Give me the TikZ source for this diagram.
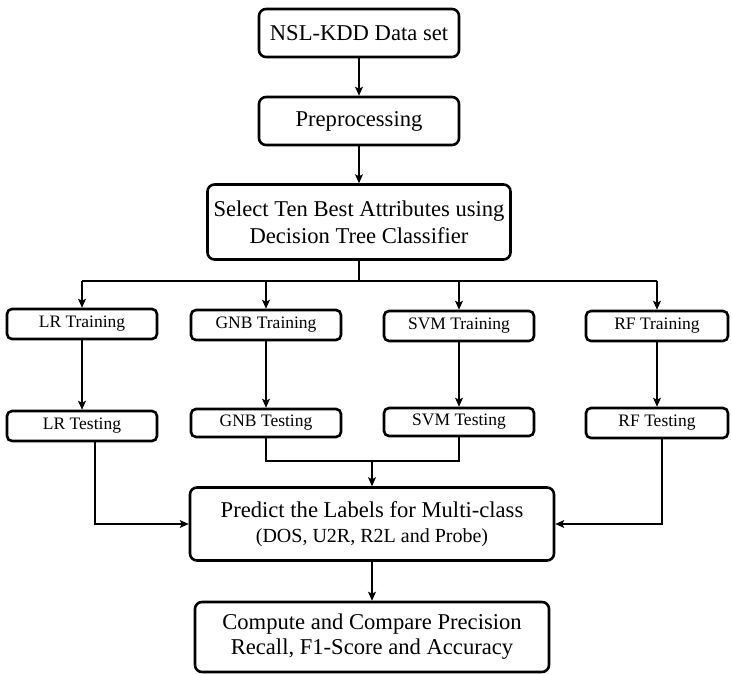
\documentclass[tikz,border=0pt]{standalone}
\usepackage{fontspec}
\setmainfont{Liberation Serif}
\usetikzlibrary{arrows.meta}

\begin{document}
\begin{tikzpicture}[x=1pt, y=-1pt,
    bigbox/.style={draw, line width=2.6pt, rounded corners=7pt, align=center,
        inner sep=0pt, font=\fontsize{22.6}{27}\selectfont},
    smallbox/.style={draw, line width=2.6pt, rounded corners=5pt, inner sep=0pt,
        minimum height=30pt, font=\fontsize{17.5}{20}\selectfont},
    link/.style={line width=1.2pt, -{Stealth[length=9pt,width=8pt,inset=2pt]}},
    wire/.style={line width=1.2pt}]

    \useasboundingbox (0,0) rectangle (732,675);

    % upper chain
    \node[bigbox, minimum width=200, minimum height=48] (nsl) at (359,33) {NSL-KDD Data set};
    \node[bigbox, minimum width=200, minimum height=48] (prep) at (359,121) {Preprocessing};
    \node[bigbox, minimum width=303, minimum height=75] (select) at (359,222)
        {Select Ten Best Attributes using\\Decision Tree Classifier};
    \draw[link] (nsl) -- (prep);
    \draw[link] (prep) -- (select);

    % training row
    \node[smallbox, minimum width=150] (lrtrain) at (82,324) {LR Training};
    \node[smallbox, minimum width=150] (gnbtrain) at (266,325) {GNB Training};
    \node[smallbox, minimum width=150] (svmtrain) at (459,326) {SVM Training};
    \node[smallbox, minimum width=142] (rftrain) at (657,326) {RF Training};

    % testing row
    \node[smallbox, minimum width=150] (lrtest) at (82,426) {LR Testing};
    \node[smallbox, minimum width=150, minimum height=28] (gnbtest) at (266,423) {GNB Testing};
    \node[smallbox, minimum width=150, minimum height=28] (svmtest) at (459,422) {SVM Testing};
    \node[smallbox, minimum width=142] (rftest) at (657,423) {RF Testing};

    % split after feature selection
    \coordinate (split) at (359,281);
    \draw[wire] (select) -- (split);
    \draw[wire] (lrtrain.north |- split) -- (split -| rftrain.north);
    \foreach \m in {lrtrain, gnbtrain, svmtrain, rftrain}
        \draw[link] (\m.north |- split) -- (\m);
    \foreach \m in {lr, gnb, svm, rf}
        \draw[link] (\m train) -- (\m test);

    % lower chain
    \node[bigbox, minimum width=364, minimum height=73] (predict) at (372,524)
        {Predict the Labels for Multi-class\\[-2pt]{\fontsize{20}{22}\selectfont(DOS, U2R, R2L and Probe)}};
    \node[bigbox, minimum width=354, minimum height=70] (compute) at (372,637)
        {Compute and Compare Precision\\[-2pt]Recall, F1-Score and Accuracy};

    \coordinate (join) at (372,461);
    \draw[wire] (gnbtest) -- (gnbtest |- join) -- (svmtest |- join) -- (svmtest);
    \draw[link] (join) -- (predict);
    \draw[link] ([xshift=13pt]lrtest.south) |- (predict.west);
    \draw[link] ([xshift=5pt]rftest.south) |- (predict.east);
    \draw[link] (predict) -- (compute);

\end{tikzpicture}
\end{document}
